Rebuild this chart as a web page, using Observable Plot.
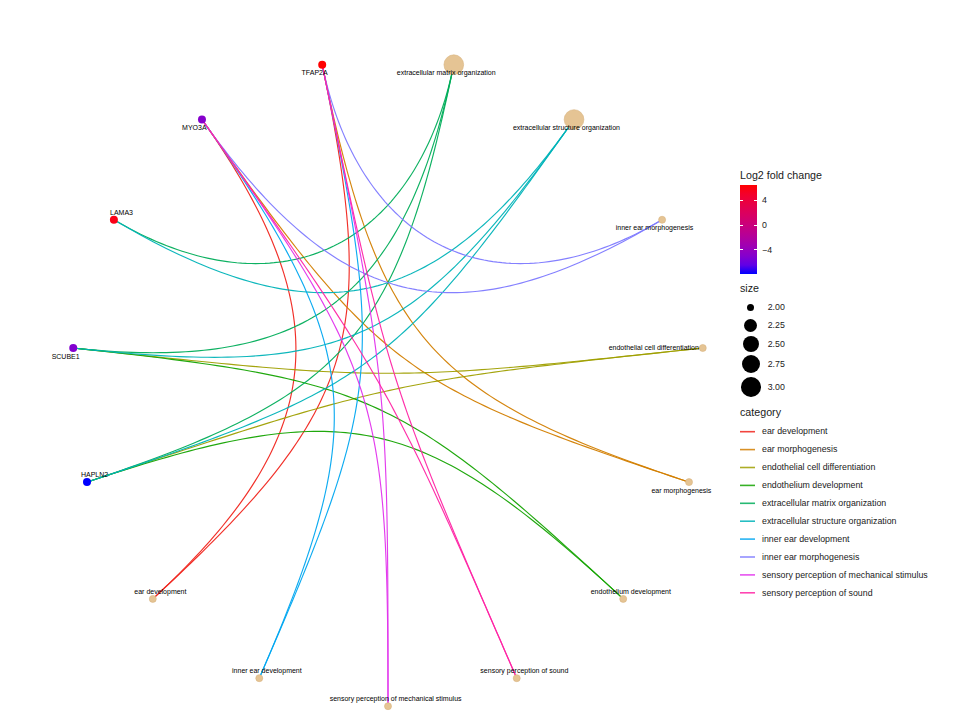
<!DOCTYPE html>
<html>
<head>
<meta charset="utf-8">
<script src="https://cdn.jsdelivr.net/npm/d3@7"></script>
<script src="https://cdn.jsdelivr.net/npm/@observablehq/plot@0.6"></script>
<style>
  body { margin: 0; background: #ffffff; font-family: "Liberation Sans", Arial, sans-serif; }
  #wrap { position: relative; width: 960px; height: 722px; overflow: hidden; }
  #legend { position: absolute; left: 0; top: 0; width: 960px; height: 722px; pointer-events: none; }
  .lt { position: absolute; white-space: nowrap; color: #1a1a1a; }
</style>
</head>
<body>
<div id="wrap"><div id="legend"></div></div>
<script>
// ---------------- data ----------------
const genes = ["TFAP2A", "MYO3A", "LAMA3", "SCUBE1", "HAPLN2"];
const geneLogFC = [6.5, -4.9, 5.9, -5.1, -7.9];

const categories = [
  "ear development",
  "ear morphogenesis",
  "endothelial cell differentiation",
  "endothelium development",
  "extracellular matrix organization",
  "extracellular structure organization",
  "inner ear development",
  "inner ear morphogenesis",
  "sensory perception of mechanical stimulus",
  "sensory perception of sound"
];
const categorySize = [2, 2, 2, 2, 3, 3, 2, 2, 2, 2];

// order of nodes around the circle (starting at the bottom, counter-clockwise)
const circleOrder = [
  "sensory perception of mechanical stimulus",
  "sensory perception of sound",
  "endothelium development",
  "ear morphogenesis",
  "endothelial cell differentiation",
  "inner ear morphogenesis",
  "extracellular structure organization",
  "extracellular matrix organization",
  "TFAP2A", "MYO3A", "LAMA3", "SCUBE1", "HAPLN2",
  "ear development",
  "inner ear development"
];

// gene-category links
const edgeGene = [
  "TFAP2A", "TFAP2A", "TFAP2A", "TFAP2A", "TFAP2A", "TFAP2A",
  "MYO3A", "MYO3A", "MYO3A", "MYO3A", "MYO3A", "MYO3A",
  "LAMA3", "LAMA3",
  "SCUBE1", "SCUBE1", "SCUBE1", "SCUBE1",
  "HAPLN2", "HAPLN2", "HAPLN2", "HAPLN2"
];
const edgeCategory = [
  "inner ear morphogenesis", "ear morphogenesis", "ear development", "inner ear development", "sensory perception of sound", "sensory perception of mechanical stimulus",
  "inner ear morphogenesis", "ear morphogenesis", "ear development", "inner ear development", "sensory perception of sound", "sensory perception of mechanical stimulus",
  "extracellular matrix organization", "extracellular structure organization",
  "extracellular matrix organization", "extracellular structure organization", "endothelial cell differentiation", "endothelium development",
  "extracellular matrix organization", "extracellular structure organization", "endothelial cell differentiation", "endothelium development"
];

const sizeBreaks = [2.00, 2.25, 2.50, 2.75, 3.00];
const fcTicks = [4, 0, -4];

// ---------------- styles ----------------
const palette = ["#F0241C", "#D27E00", "#9F9F00", "#14A300", "#00AD5A",
                 "#00B3B8", "#00A6F0", "#7D79FF", "#E232EC", "#FF24A4"];
const categoryFill = "#E5C494";
const labelFont = "Liberation Sans, Arial, sans-serif";
// label placement (repel-like offsets)
const labelBelowLeft = ["TFAP2A", "MYO3A", "SCUBE1", "extracellular matrix organization",
  "extracellular structure organization", "inner ear morphogenesis", "ear morphogenesis"];
const labelLeft = ["endothelial cell differentiation"];

// ---------------- layout ----------------
const n = circleOrder.length;
const pos = new Map(circleOrder.map((name, i) => {
  const a = (270 + 360 * i / n) * Math.PI / 180;
  return [name, [Math.cos(a), Math.sin(a)]];
}));

const geneNodes = genes.map((g, i) => ({name: g, fc: geneLogFC[i], x: pos.get(g)[0], y: pos.get(g)[1]}));
const catNodes = categories.map((c, i) => ({name: c, size: categorySize[i], x: pos.get(c)[0], y: pos.get(c)[1]}));
const allNodes = [...catNodes, ...geneNodes];

// arc edges: cubic bezier, control points pulled toward centre by half the chord
const edgePts = [];
edgeGene.forEach((g, k) => {
  const c = edgeCategory[k];
  const p0 = pos.get(g), p3 = pos.get(c);
  const h = Math.hypot(p3[0] - p0[0], p3[1] - p0[1]) / 2;
  const p1 = [p0[0] * (1 - h), p0[1] * (1 - h)];
  const p2 = [p3[0] * (1 - h), p3[1] * (1 - h)];
  const N = 90;
  for (let i = 0; i <= N; i++) {
    const t = i / N, u = 1 - t;
    const b0 = u * u * u, b1 = 3 * u * u * t, b2 = 3 * u * t * t, b3 = t * t * t;
    edgePts.push({
      edge: k, category: c,
      x: b0 * p0[0] + b1 * p1[0] + b2 * p2[0] + b3 * p3[0],
      y: b0 * p0[1] + b1 * p1[1] + b2 * p2[1] + b3 * p3[1]
    });
  }
});

const fcMin = d3.min(geneLogFC), fcMax = d3.max(geneLogFC);
const fcInterp = d3.interpolateLab("blue", "red");
const sizeToR = v => 3.5 + 6.35 * Math.sqrt(v - 2);

const textOpts = {x: "x", y: "y", text: "name", fontSize: 7, fontFamily: labelFont, fill: "#000"};

const plot = Plot.plot({
  width: 960,
  height: 722,
  marginLeft: 71,
  marginRight: 256,
  marginTop: 57.1,
  marginBottom: 16.3,
  style: {background: "#ffffff", overflow: "visible"},
  x: {domain: [-1, 1], axis: null},
  y: {domain: [-1, 1], axis: null},
  color: {type: "linear", domain: [fcMin, fcMax], range: ["blue", "red"], interpolate: d3.interpolateLab},
  r: {type: "sqrt", domain: [0, 1], range: [3.5, 9.85], clamp: true},
  marks: [
    ...categories.map((c, i) => Plot.line(edgePts.filter(d => d.category === c), {
      x: "x", y: "y", z: "edge", stroke: palette[i], strokeWidth: 1.15, strokeOpacity: 0.95
    })),
    Plot.dot(catNodes, {x: "x", y: "y", r: d => d.size - 2, fill: categoryFill, stroke: "#D9B47F", strokeWidth: 0.6}),
    Plot.dot(geneNodes, {x: "x", y: "y", r: 4, fill: "fc"}),
    Plot.text(allNodes.filter(d => labelBelowLeft.includes(d.name)), {...textOpts, dx: -7.6, dy: 8.3}),
    Plot.text(allNodes.filter(d => labelLeft.includes(d.name)), {...textOpts, dx: -49, dy: 0}),
    Plot.text(allNodes.filter(d => !labelBelowLeft.includes(d.name) && !labelLeft.includes(d.name)), {...textOpts, dx: 7.6, dy: -7.2})
  ]
});
document.getElementById("wrap").prepend(plot);

// ---------------- legends (HTML, right side) ----------------
const L = document.getElementById("legend");
function txt(s, x, yc, size) {
  const d = document.createElement("div");
  d.className = "lt";
  d.textContent = s;
  d.style.left = x + "px";
  d.style.top = (yc - size * 0.6) + "px";
  d.style.fontSize = size + "px";
  d.style.lineHeight = (size * 1.2) + "px";
  L.appendChild(d);
  return d;
}
function box(x, y, w, h, bg) {
  const d = document.createElement("div");
  d.style.position = "absolute";
  d.style.left = x + "px"; d.style.top = y + "px";
  d.style.width = w + "px"; d.style.height = h + "px";
  d.style.background = bg;
  L.appendChild(d);
  return d;
}

// colour bar
txt("Log2 fold change", 740, 175, 10.7);
const barTop = 185, barH = 89, barX = 740, barW = 17;
box(barX, barTop, barW, barH, "linear-gradient(to bottom, " +
  d3.range(0, 1.0001, 0.1).map(t => `${fcInterp(1 - t)} ${(t * 100).toFixed(1)}%`).join(", ") + ")");
fcTicks.forEach(v => {
  const y = barTop + (fcMax - v) / (fcMax - fcMin) * barH;
  box(barX, y - 0.5, 3.3, 1, "#ffffff");
  box(barX + barW - 3.3, y - 0.5, 3.3, 1, "#ffffff");
  txt(v < 0 ? "\u2212" + Math.abs(v) : String(v), 762, y, 8.8);
});

// size legend
txt("size", 740, 288.3, 10.7);
const sizeY = [307.3, 325.7, 344, 364, 387.3];
sizeBreaks.forEach((v, i) => {
  const r = sizeToR(v);
  const c = box(750.7 - r, sizeY[i] - r, 2 * r, 2 * r, "#000000");
  c.style.borderRadius = "50%";
  txt(v.toFixed(2), 767.7, sizeY[i], 8.8);
});

// category legend (keys drawn in a small svg)
txt("category", 740, 412.7, 10.7);
const ns = "http://www.w3.org/2000/svg";
const keySvg = document.createElementNS(ns, "svg");
keySvg.setAttribute("width", "960");
keySvg.setAttribute("height", "722");
keySvg.style.position = "absolute";
keySvg.style.left = "0px";
keySvg.style.top = "0px";
L.appendChild(keySvg);
categories.forEach((c, i) => {
  const y = 431.7 + 17.9 * i;
  const ln = document.createElementNS(ns, "line");
  ln.setAttribute("x1", 740); ln.setAttribute("x2", 755);
  ln.setAttribute("y1", y); ln.setAttribute("y2", y);
  ln.setAttribute("stroke", palette[i]);
  ln.setAttribute("stroke-width", 1.6);
  ln.setAttribute("stroke-opacity", 0.85);
  keySvg.appendChild(ln);
  txt(c, 762, y, 8.8);
});
</script>
</body>
</html>
